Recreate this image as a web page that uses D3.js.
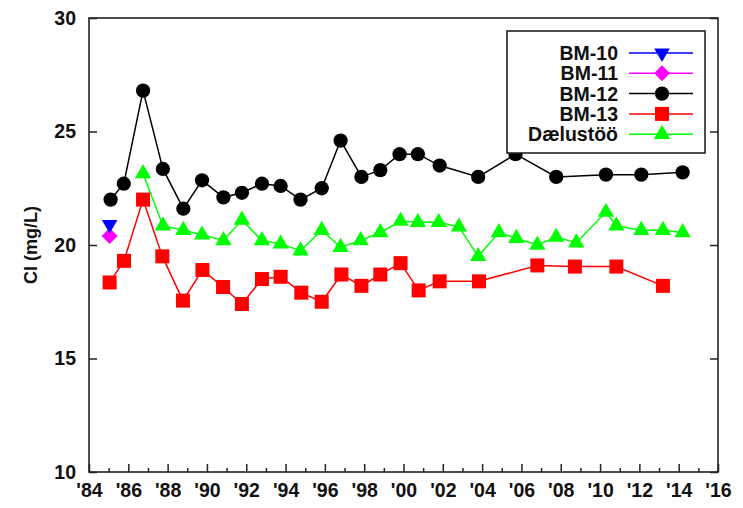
<!DOCTYPE html>
<html>
<head>
<meta charset="utf-8">
<script src="https://cdn.jsdelivr.net/npm/d3@7"></script>
<style>
  body { margin: 0; background: #fff; }
  text { font-family: "Liberation Sans", Arial, Helvetica, sans-serif; font-weight: bold; fill: #111; }
</style>
</head>
<body>
<div id="chart"></div>
<script>
// Data (decimal years, Cl in mg/L)
var bm10Years = [1985.05];
var bm10Values = [20.9];

var bm11Years = [1985.05];
var bm11Values = [20.4];

var bm12Years = [1985.1, 1985.77, 1986.75, 1987.76, 1988.8, 1989.75, 1990.84, 1991.78, 1992.8, 1993.75,
  1994.76, 1995.84, 1996.8, 1997.86, 1998.82, 1999.8, 2000.73, 2001.84, 2003.8, 2005.7,
  2007.77, 2010.3, 2012.1, 2014.2];
var bm12Values = [22.0, 22.7, 26.8, 23.35, 21.6, 22.85, 22.1, 22.3, 22.7, 22.6,
  22.0, 22.5, 24.6, 23.0, 23.3, 24.0, 24.0, 23.5, 23.0, 24.0,
  23.0, 23.1, 23.1, 23.2];

var bm13Years = [1985.05, 1985.78, 1986.75, 1987.73, 1988.78, 1989.77, 1990.82, 1991.78, 1992.8, 1993.75,
  1994.8, 1995.84, 1996.84, 1997.86, 1998.82, 1999.85, 2000.77, 2001.84, 2003.84, 2006.81,
  2008.72, 2010.83, 2013.2];
var bm13Values = [18.35, 19.3, 22.0, 19.5, 17.55, 18.9, 18.15, 17.4, 18.5, 18.6,
  17.9, 17.5, 18.7, 18.2, 18.7, 19.2, 18.0, 18.4, 18.4, 19.1,
  19.05, 19.05, 18.2];

var pumpYears = [1986.75, 1987.76, 1988.8, 1989.75, 1990.84, 1991.78, 1992.8, 1993.75, 1994.76, 1995.84,
  1996.8, 1997.82, 1998.82, 1999.85, 2000.73, 2001.79, 2002.82, 2003.8, 2004.85, 2005.74,
  2006.81, 2007.77, 2008.79, 2010.3, 2010.83, 2012.1, 2013.2, 2014.2];
var pumpValues = [23.15, 20.85, 20.65, 20.45, 20.2, 21.1, 20.2, 20.05, 19.75, 20.65,
  19.9, 20.2, 20.55, 21.05, 21.0, 21.0, 20.8, 19.5, 20.55, 20.3,
  20.0, 20.35, 20.1, 21.45, 20.85, 20.65, 20.65, 20.55];

var seriesNames = ['BM-10', 'BM-11', 'BM-12', 'BM-13', 'D\u00e6lust\u00f6\u00f6'];
var seriesColors = ['#0000ff', '#ff00ff', '#000000', '#ff0000', '#00ff00'];
var seriesShapes = ['triangleDown', 'diamond', 'circle', 'square', 'triangle'];

var yTicks = [10, 15, 20, 25, 30];
var yearMin = 1984;
var yearMax = 2016;

function init() {
  var w = 743;
  var h = 508;
  var left = 89;
  var right = 718;
  var top = 18;
  var bottom = 472;

  var svg = d3.select('#chart').append('svg')
    .attr('width', w)
    .attr('height', h);

  // Scales
  var xScale = d3.scaleLinear().domain([yearMin, yearMax]).range([left, right]);
  var yScale = d3.scaleLinear().domain([10, 30]).range([bottom, top]);

  // Frame
  svg.append('rect')
    .attr('x', left).attr('y', top)
    .attr('width', right - left).attr('height', bottom - top)
    .attr('fill', 'none').attr('stroke', '#222').attr('stroke-width', 1.6);

  // X axis - major ticks every two years, minor every year
  var majorYears = d3.range(yearMin, yearMax + 1, 2);
  var minorYears = d3.range(yearMin + 1, yearMax, 2);

  var xAxis = d3.axisBottom(xScale)
    .tickValues(majorYears)
    .tickSizeInner(-8).tickSizeOuter(0).tickPadding(11)
    .tickFormat(function (d) { return "'" + String(d % 100).padStart(2, '0'); });
  var gx = svg.append('g').attr('transform', 'translate(0,' + bottom + ')').call(xAxis);

  var xMinor = d3.axisBottom(xScale)
    .tickValues(minorYears)
    .tickSizeInner(-4).tickSizeOuter(0).tickFormat('');
  var gxm = svg.append('g').attr('transform', 'translate(0,' + bottom + ')').call(xMinor);

  // Y axis left and right (inward ticks)
  var yAxis = d3.axisLeft(yScale).tickValues(yTicks)
    .tickSizeInner(-8).tickSizeOuter(0).tickPadding(13);
  var gy = svg.append('g').attr('transform', 'translate(' + left + ',0)').call(yAxis);

  var yRight = d3.axisRight(yScale).tickValues(yTicks)
    .tickSizeInner(-8).tickSizeOuter(0).tickFormat('');
  var gyr = svg.append('g').attr('transform', 'translate(' + right + ',0)').call(yRight);

  [gx, gxm, gy, gyr].forEach(function (g) {
    g.select('.domain').remove();
    g.selectAll('.tick line').attr('stroke', '#222').attr('stroke-width', 1.5);
    g.selectAll('text')
      .style('font-family', '"Liberation Sans", Arial, sans-serif')
      .style('font-weight', 'bold')
      .style('font-size', '19.5px')
      .attr('fill', '#111');
  });

  // Y label
  svg.append('text')
    .attr('transform', 'translate(37,245) rotate(-90)')
    .attr('text-anchor', 'middle')
    .style('font-size', '18px')
    .text('Cl (mg/L)');

  // Symbols
  function symbolFor(shape) {
    if (shape == 'circle') return d3.symbol().type(d3.symbolCircle).size(160)();
    if (shape == 'square') return d3.symbol().type(d3.symbolSquare).size(196)();
    if (shape == 'diamond') return d3.symbol().type(d3.symbolSquare).size(128)();
    if (shape == 'triangle') return d3.symbol().type(d3.symbolTriangle).size(115)();
    // downward triangle
    return d3.symbol().type(d3.symbolTriangle).size(105)();
  }

  function symbolRotate(shape) {
    if (shape == 'triangleDown') return ' rotate(180)';
    if (shape == 'diamond') return ' rotate(45)';
    return '';
  }

  var series = [
    [bm10Years, bm10Values],
    [bm11Years, bm11Values],
    [bm12Years, bm12Values],
    [bm13Years, bm13Values],
    [pumpYears, pumpValues]
  ];

  var line = d3.line()
    .x(function (d) { return xScale(d[0]); })
    .y(function (d) { return yScale(d[1]); });

  // Draw in order: green, red, black, then single points
  var drawOrder = [4, 3, 2, 1, 0];
  drawOrder.forEach(function (i) {
    var pts = series[i][0].map(function (yr, j) { return [yr, series[i][1][j]]; });
    var g = svg.append('g');

    g.append('path')
      .datum(pts)
      .attr('d', line)
      .attr('fill', 'none')
      .attr('stroke', seriesColors[i])
      .attr('stroke-width', 1.5);

    g.selectAll('path.mark')
      .data(pts)
      .enter()
      .append('path')
      .attr('class', 'mark')
      .attr('d', symbolFor(seriesShapes[i]))
      .attr('transform', function (d) {
        return 'translate(' + xScale(d[0]) + ',' + yScale(d[1]) + ')' + symbolRotate(seriesShapes[i]);
      })
      .attr('fill', seriesColors[i]);
  });

  // Legend
  var lgX = 507, lgY = 31, lgW = 198, lgH = 122;
  var legend = svg.append('g');
  legend.append('rect')
    .attr('x', lgX).attr('y', lgY).attr('width', lgW).attr('height', lgH)
    .attr('fill', '#fff').attr('stroke', '#222').attr('stroke-width', 1.6);

  seriesNames.forEach(function (name, i) {
    var cy = 53 + i * 20.3;
    legend.append('text')
      .attr('x', 618).attr('y', cy)
      .attr('dy', '0.36em')
      .attr('text-anchor', 'end')
      .style('font-size', '19.5px')
      .text(name);
    legend.append('line')
      .attr('x1', 629).attr('x2', 693)
      .attr('y1', cy).attr('y2', cy)
      .attr('stroke', seriesColors[i]).attr('stroke-width', 1.5);
    legend.append('path')
      .attr('d', symbolFor(seriesShapes[i]))
      .attr('transform', 'translate(662,' + cy + ')' + symbolRotate(seriesShapes[i]))
      .attr('fill', seriesColors[i]);
  });
}

window.onload = init;
</script>
</body>
</html>
